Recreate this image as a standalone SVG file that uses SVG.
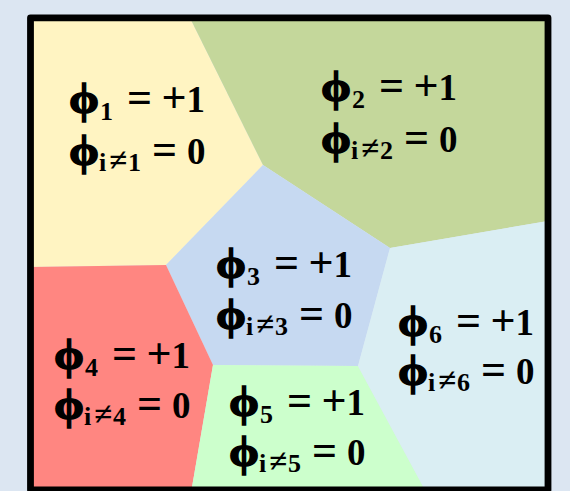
<svg xmlns="http://www.w3.org/2000/svg" width="570" height="491" viewBox="0 0 570 491">
<style>
.t{font-family:"Liberation Serif","Times New Roman",serif;font-weight:bold;fill:#000;font-size:37px}
.p{font-size:43px;stroke:#000;stroke-width:1.4px}
.s{font-size:26px}
.n{font-size:33px}
.o{font-size:44px}
</style>
<rect x="0" y="0" width="570" height="491" fill="#DCE6F2"/>
<g id="region1"><polygon points="30,18 190,18 263,165 166,265 30,267" fill="#FFF4C2"/>
<text class="t p" transform="translate(69,113) scale(1.12,1)">ϕ</text>
<text class="t p" transform="translate(69,165) scale(1.12,1)">ϕ</text>
<text class="t"><tspan class="s" x="100" y="120">1</tspan><tspan class="o" x="127" y="112">=</tspan><tspan class="o" x="161.5" y="112">+</tspan><tspan x="186.5" y="112">1</tspan></text>
<text class="t"><tspan class="s" x="99" y="171">i</tspan><tspan class="n" x="109" y="171">≠</tspan><tspan class="s" x="128" y="171">1</tspan><tspan class="o" x="152" y="164">=</tspan><tspan x="187" y="164">0</tspan></text></g>
<g id="region2"><polygon points="190,18 548,18 548,221 390,248 263,165" fill="#C4D79B"/>
<text class="t p" transform="translate(321,101) scale(1.12,1)">ϕ</text>
<text class="t p" transform="translate(321,153) scale(1.12,1)">ϕ</text>
<text class="t"><tspan class="s" x="352" y="108">2</tspan><tspan class="o" x="379" y="100">=</tspan><tspan class="o" x="413.5" y="100">+</tspan><tspan x="438.5" y="100">1</tspan></text>
<text class="t"><tspan class="s" x="351" y="159">i</tspan><tspan class="n" x="361" y="159">≠</tspan><tspan class="s" x="380" y="159">2</tspan><tspan class="o" x="404" y="152">=</tspan><tspan x="439" y="152">0</tspan></text></g>
<g id="region3"><polygon points="263,165 390,248 358,366 213,365 166,265" fill="#C6D9F1"/>
<text class="t p" transform="translate(216,278) scale(1.12,1)">ϕ</text>
<text class="t p" transform="translate(216,329) scale(1.12,1)">ϕ</text>
<text class="t"><tspan class="s" x="247" y="285">3</tspan><tspan class="o" x="274" y="277">=</tspan><tspan class="o" x="308.5" y="277">+</tspan><tspan x="333.5" y="277">1</tspan></text>
<text class="t"><tspan class="s" x="246" y="335">i</tspan><tspan class="n" x="256" y="335">≠</tspan><tspan class="s" x="275" y="335">3</tspan><tspan class="o" x="299" y="328">=</tspan><tspan x="334" y="328">0</tspan></text></g>
<g id="region4"><polygon points="30,267 166,265 213,365 191.5,490 30,490" fill="#FF8681"/>
<text class="t p" transform="translate(54,369) scale(1.12,1)">ϕ</text>
<text class="t p" transform="translate(54,419) scale(1.12,1)">ϕ</text>
<text class="t"><tspan class="s" x="85" y="376">4</tspan><tspan class="o" x="112" y="368">=</tspan><tspan class="o" x="146.5" y="368">+</tspan><tspan x="171.5" y="368">1</tspan></text>
<text class="t"><tspan class="s" x="84" y="425">i</tspan><tspan class="n" x="94" y="425">≠</tspan><tspan class="s" x="113" y="425">4</tspan><tspan class="o" x="137" y="418">=</tspan><tspan x="172" y="418">0</tspan></text></g>
<g id="region5"><polygon points="213,365 358,366 425,490 191.5,490" fill="#CCFFCC"/>
<text class="t p" transform="translate(229,416) scale(1.12,1)">ϕ</text>
<text class="t p" transform="translate(229,466) scale(1.12,1)">ϕ</text>
<text class="t"><tspan class="s" x="260" y="423">5</tspan><tspan class="o" x="287" y="415">=</tspan><tspan class="o" x="321.5" y="415">+</tspan><tspan x="346.5" y="415">1</tspan></text>
<text class="t"><tspan class="s" x="259" y="472">i</tspan><tspan class="n" x="269" y="472">≠</tspan><tspan class="s" x="288" y="472">5</tspan><tspan class="o" x="312" y="465">=</tspan><tspan x="347" y="465">0</tspan></text></g>
<g id="region6"><polygon points="390,248 548,221 548,490 425,490 358,366" fill="#DAEEF3"/>
<text class="t p" transform="translate(398,336) scale(1.12,1)">ϕ</text>
<text class="t p" transform="translate(398,385) scale(1.12,1)">ϕ</text>
<text class="t"><tspan class="s" x="429" y="343">6</tspan><tspan class="o" x="456" y="335">=</tspan><tspan class="o" x="490.5" y="335">+</tspan><tspan x="515.5" y="335">1</tspan></text>
<text class="t"><tspan class="s" x="428" y="391">i</tspan><tspan class="n" x="438" y="391">≠</tspan><tspan class="s" x="457" y="391">6</tspan><tspan class="o" x="481" y="384">=</tspan><tspan x="516" y="384">0</tspan></text></g>
<g id="connectors"></g>
<rect id="frame" x="30.5" y="17.8" width="517.5" height="472" fill="none" stroke="#000" stroke-width="6.8" stroke-linejoin="round"/>
</svg>
